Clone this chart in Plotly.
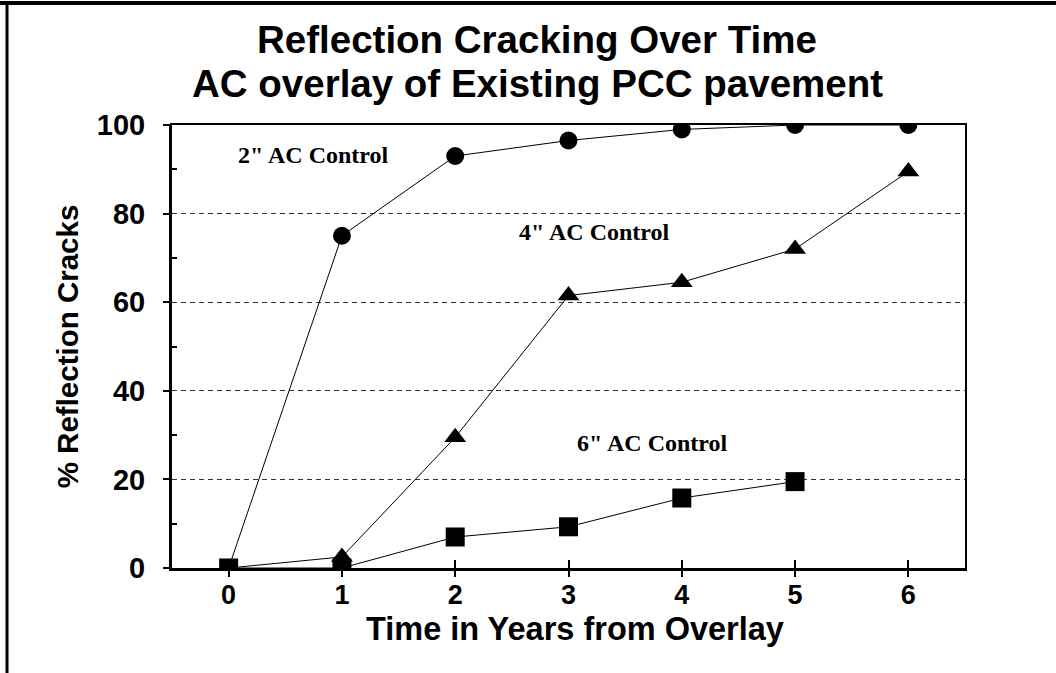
import plotly.graph_objects as go

# Years since overlay and % of reflection cracks for each AC thickness
years = [0, 1, 2, 3, 4, 5, 6]
ac2_cracks = [0, 75, 93, 96.5, 99, 100, 100]
ac4_cracks = [0, 2.5, 29.5, 61.5, 64.5, 72, 89.5]
years_6 = [0, 1, 2, 3, 4, 5]
ac6_cracks = [0, 0, 7, 9.3, 15.8, 19.5]

labels = ['2" AC Control', '4" AC Control', '6" AC Control']
label_x = [0.75, 3.23, 3.74]
label_y = [93.2, 75.8, 28.2]

title_lines = ['Reflection Cracking Over Time', 'AC overlay of Existing PCC pavement']

y_ticks = [0, 20, 40, 60, 80, 100]

W, H = 1056, 673
L, R, T, B = 172, 91, 125, 105
pw, ph = W - L - R, H - T - B


def px_x(x):
    return (x - L) / pw


def px_y(y):
    return (H - B - y) / ph


fig = go.Figure()

line = dict(color='black', width=1)
fig.add_trace(go.Scatter(x=years, y=ac2_cracks, mode='lines+markers', line=line,
                         marker=dict(symbol='circle', size=18, color='black')))
fig.add_trace(go.Scatter(x=years, y=ac4_cracks, mode='lines+markers', line=line,
                         marker=dict(symbol='triangle-up', size=19, color='black')))
fig.add_trace(go.Scatter(x=years_6, y=ac6_cracks, mode='lines+markers', line=line,
                         marker=dict(symbol='square', size=19, color='black')))
# dummy trace so the overlay axes (inner ticks, thick left/bottom lines) get drawn
fig.add_trace(go.Scatter(x=years_6, y=ac6_cracks, mode='none', xaxis='x2', yaxis='y2',
                         hoverinfo='skip'))

for txt, lx, ly in zip(labels, label_x, label_y):
    fig.add_annotation(x=lx, y=ly, text='<b>' + txt + '</b>', showarrow=False, xanchor='center',
                       font=dict(family='Liberation Serif', size=24, color='black'))

# two title lines, placed separately to get the tighter line spacing
for txt, ty in zip(title_lines, [40, 83]):
    fig.add_annotation(xref='paper', yref='paper', x=px_x(537), y=px_y(ty),
                       text='<b>' + txt + '</b>', showarrow=False,
                       xanchor='center', yanchor='middle',
                       font=dict(family='Liberation Sans', size=38.5, color='black'))

# x axis title placed by hand so it can sit closer to the tick labels
fig.add_annotation(xref='paper', yref='paper', x=px_x(575), y=px_y(629),
                   text='<b>Time in Years from Overlay</b>', showarrow=False,
                   xanchor='center', yanchor='middle',
                   font=dict(family='Liberation Sans', size=32.5, color='black'))

fig.update_layout(
    width=W, height=H,
    margin=dict(l=L, r=R, t=T, b=B),
    paper_bgcolor='white', plot_bgcolor='white',
    showlegend=False,
    xaxis=dict(range=[-0.5, 6.5], tickvals=years, ticktext=['<b>%d</b>' % v for v in years],
               tickfont=dict(family='Liberation Sans', size=27, color='black'),
               ticks='outside', ticklen=7, tickwidth=2, tickcolor='black',
               ticklabelstandoff=-5,
               showline=True, linecolor='black', linewidth=2, mirror=True,
               showgrid=False, zeroline=False),
    yaxis=dict(range=[0, 100], tickvals=y_ticks, ticktext=['<b>%d</b>' % v for v in y_ticks],
               tickfont=dict(family='Liberation Sans', size=29, color='black'),
               ticks='outside', ticklen=7, tickwidth=2, tickcolor='black',
               ticklabelstandoff=12,
               showline=True, linecolor='black', linewidth=2, mirror=True,
               showgrid=True, gridcolor='#333333', gridwidth=1, griddash='5px,4px',
               zeroline=False,
               minor=dict(tickvals=[10, 30, 50, 70, 90], ticks='inside', ticklen=5,
                          tickwidth=2, tickcolor='black', showgrid=False),
               title=dict(text='<b>% Reflection Cracks</b>', standoff=9,
                          font=dict(family='Liberation Sans', size=29.5, color='black'))),
    xaxis2=dict(overlaying='x', matches='x', side='bottom', anchor='y2',
                tickvals=years, showticklabels=False, ticks='inside', ticklen=8,
                tickwidth=2, tickcolor='black', showline=True, linecolor='black',
                linewidth=3, showgrid=False, zeroline=False),
    yaxis2=dict(overlaying='y', matches='y', side='left', anchor='x2',
                showticklabels=False, ticks='', showline=True, linecolor='black',
                linewidth=3, showgrid=False, zeroline=False),
)

# outer frame of the original picture (top and left edges only)
fig.add_shape(type='line', xref='paper', yref='paper',
              x0=px_x(0), x1=px_x(W), y0=px_y(3), y1=px_y(3),
              line=dict(color='black', width=4))
fig.add_shape(type='line', xref='paper', yref='paper',
              x0=px_x(7), x1=px_x(7), y0=px_y(H), y1=px_y(3),
              line=dict(color='black', width=3))

# drop the default 8px page margin so the figure sits at the window origin
fig.write_html("out.html", config={'displayModeBar': False},
               post_script="document.body.style.margin='0';")
